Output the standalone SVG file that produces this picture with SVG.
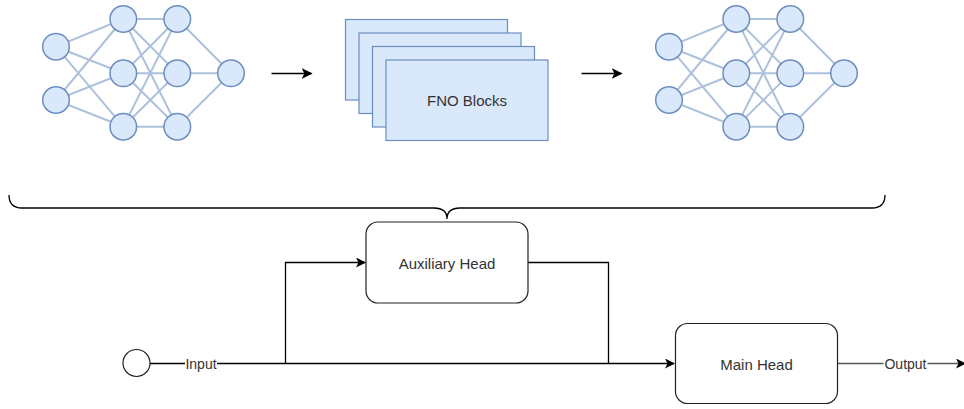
<svg xmlns="http://www.w3.org/2000/svg" width="964" height="409" viewBox="0 0 964 409">
<defs>
<style>
.nn-edge{stroke:#6c8ebf;stroke-opacity:0.55;stroke-width:2;fill:none}
.neuron{fill:#dae8fc;stroke:#6c8ebf;stroke-width:1.5}
.block{fill:#dae8fc;stroke:#6c8ebf;stroke-width:1.2}
.box{fill:#ffffff;stroke:#222222;stroke-width:1.2}
.conn{stroke:#000000;stroke-width:1.3;fill:none}
.lbl{font-family:"Liberation Sans",Arial,sans-serif;font-size:15px;fill:#333333;text-anchor:middle;dominant-baseline:central}
.elbl{font-family:"Liberation Sans",Arial,sans-serif;font-size:14px;fill:#333333;text-anchor:middle;dominant-baseline:central}
</style>
<marker id="arr" viewBox="0 0 10 10" refX="9" refY="5" markerWidth="11" markerHeight="11" markerUnits="userSpaceOnUse" orient="auto">
<path d="M0,0 L10,5 L0,10 L2.5,5 Z" fill="#000000"/>
</marker>
<marker id="arr2" viewBox="0 0 10 10" refX="9" refY="5" markerWidth="10" markerHeight="10" markerUnits="userSpaceOnUse" orient="auto">
<path d="M0,0 L10,5 L0,10 L2.5,5 Z" fill="#000000"/>
</marker>
<g id="nn-template">
<g class="nn-edges">
<path class="nn-edge" d="M56,46.7 L123.3,19 M56,46.7 L123.3,73.3 M56,46.7 L123.3,126.7 M56,100 L123.3,19 M56,100 L123.3,73.3 M56,100 L123.3,126.7"/>
<path class="nn-edge" d="M123.3,19 L177.3,19 M123.3,19 L177.3,73.3 M123.3,19 L177.3,126.7 M123.3,73.3 L177.3,19 M123.3,73.3 L177.3,73.3 M123.3,73.3 L177.3,126.7 M123.3,126.7 L177.3,19 M123.3,126.7 L177.3,73.3 M123.3,126.7 L177.3,126.7"/>
<path class="nn-edge" d="M177.3,19 L231,73.3 M177.3,73.3 L231,73.3 M177.3,126.7 L231,73.3"/>
</g>
<circle class="neuron" cx="56" cy="46.7" r="13.3"/>
<circle class="neuron" cx="56" cy="100" r="13.3"/>
<circle class="neuron" cx="123.3" cy="19" r="13.3"/>
<circle class="neuron" cx="123.3" cy="73.3" r="13.3"/>
<circle class="neuron" cx="123.3" cy="126.7" r="13.3"/>
<circle class="neuron" cx="177.3" cy="19" r="13.3"/>
<circle class="neuron" cx="177.3" cy="73.3" r="13.3"/>
<circle class="neuron" cx="177.3" cy="126.7" r="13.3"/>
<circle class="neuron" cx="231" cy="73.3" r="13.3"/>
</g>
</defs>

<g id="encoder-network">
<use href="#nn-template"/>
</g>

<g id="fno-blocks">
<rect class="block" x="345.5" y="19.5" width="162" height="80.5"/>
<rect class="block" x="359" y="33" width="162" height="80.5"/>
<rect class="block" x="372.5" y="46.5" width="162" height="80.5"/>
<rect class="block" x="386" y="60" width="162" height="80.5"/>
<text class="lbl" x="467" y="100.5">FNO Blocks</text>
</g>

<g id="decoder-network">
<use href="#nn-template" transform="translate(613,0)"/>
</g>

<g id="brace">
<path class="conn" d="M9,195 Q9,208 22,208 L434,208 Q447,208 447,219 Q447,208 460,208 L872,208 Q885,208 885,195"/>
</g>

<g id="input-node">
<circle cx="136.5" cy="363" r="13.5" fill="#ffffff" stroke="#222222" stroke-width="1.2"/>
</g>

<g id="auxiliary-head">
<rect class="box" x="366" y="222" width="162" height="81" rx="12" ry="12"/>
<text class="lbl" x="447" y="263">Auxiliary Head</text>
</g>

<g id="main-head">
<rect class="box" x="675.5" y="323.5" width="162" height="80" rx="12" ry="12"/>
<text class="lbl" x="756.5" y="364">Main Head</text>
</g>

<g id="connectors">
<path class="conn" d="M271.5,73.5 L311.5,73.5" stroke-width="1.8" marker-end="url(#arr)"/>
<path class="conn" d="M581.5,73.5 L621.5,73.5" stroke-width="1.8" marker-end="url(#arr)"/>
<path class="conn" d="M150,363.5 L674,363.5" marker-end="url(#arr2)"/>
<path class="conn" d="M285.5,363.5 L285.5,262.5 L365,262.5" marker-end="url(#arr2)"/>
<path class="conn" d="M528,262.5 L608.5,262.5 L608.5,363.5"/>
<path d="M838,363.5 L965,363.5" stroke="#555555" stroke-width="1.3" fill="none" marker-end="url(#arr2)"/>
<rect x="185" y="355" width="32" height="16" fill="#ffffff"/>
<text class="elbl" x="201" y="364">Input</text>
<rect x="883.5" y="355" width="44" height="16" fill="#ffffff"/>
<text class="elbl" x="905.5" y="364">Output</text>
</g>
</svg>
